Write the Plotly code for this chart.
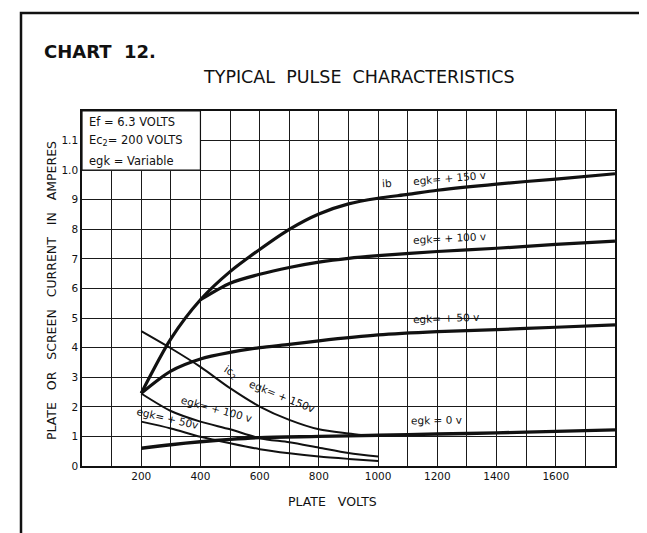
import plotly.graph_objects as go

# ---------------- data ----------------
# Plate current ib (A) vs plate volts
ib150_v = [200, 300, 400, 500, 600, 700, 800, 900, 1000, 1100, 1200, 1400, 1600, 1800]
ib150_i = [0.246, 0.43, 0.562, 0.657, 0.732, 0.80, 0.852, 0.886, 0.905, 0.918, 0.932, 0.953, 0.970, 0.988]

ib100_v = [400, 500, 600, 700, 800, 900, 1000, 1200, 1400, 1600, 1800]
ib100_i = [0.562, 0.618, 0.648, 0.671, 0.689, 0.702, 0.711, 0.725, 0.736, 0.749, 0.760]

ib50_v = [200, 300, 400, 500, 600, 700, 800, 1000, 1200, 1400, 1600, 1800]
ib50_i = [0.246, 0.321, 0.362, 0.384, 0.400, 0.411, 0.423, 0.443, 0.454, 0.461, 0.469, 0.477]

ib0_v = [200, 300, 400, 500, 600, 800, 1000, 1200, 1400, 1600, 1800]
ib0_i = [0.060, 0.072, 0.082, 0.090, 0.096, 0.100, 0.104, 0.108, 0.112, 0.117, 0.122]

# Screen current ic2 (A) vs plate volts
ic150_v = [200, 300, 400, 500, 600, 700, 800, 900, 950]
ic150_i = [0.456, 0.398, 0.335, 0.263, 0.201, 0.156, 0.124, 0.110, 0.104]

ic100_v = [200, 300, 400, 500, 600, 700, 800, 900, 1000]
ic100_i = [0.245, 0.186, 0.150, 0.124, 0.094, 0.080, 0.062, 0.044, 0.032]

ic50_v = [200, 300, 400, 500, 600, 700, 800, 900, 1000]
ic50_i = [0.150, 0.127, 0.099, 0.077, 0.057, 0.043, 0.032, 0.024, 0.017]

x_tick_vals = list(range(0, 1801, 100))
x_tick_text = ["" if (v % 200 or v in (0, 1800)) else str(v) for v in x_tick_vals]
y_tick_vals = [round(0.1 * k, 1) for k in range(0, 13)]
y_tick_text = ["0", "1", "2", "3", "4", "5", "6", "7", "8", "9", "1.0", "1.1", ""]

# ---------------- figure ----------------
W, H = 647, 533
ML, MR, MT, MB = 74, 40, 103, 75
PW, PH = W - ML - MR, H - MT - MB


def px(x):
    return (x - ML) / PW


def py(y):
    return (H - MB - y) / PH


INK = "#111111"
FONT = "DejaVu Sans"

fig = go.Figure()

curves = [
    (ib150_v, ib150_i, 3.2),
    (ib100_v, ib100_i, 3.2),
    (ib50_v, ib50_i, 3.2),
    (ib0_v, ib0_i, 3.4),
    (ic150_v, ic150_i, 2.0),
    (ic100_v, ic100_i, 2.0),
    (ic50_v, ic50_i, 2.0),
]
for xv, yv, w in curves:
    fig.add_trace(go.Scatter(x=xv, y=yv, mode="lines",
                             line=dict(color=INK, width=w, shape="spline", smoothing=0.8),
                             hoverinfo="skip", showlegend=False))

lab_font = dict(family=FONT, size=10.5, color=INK)
curve_labels = [
    ("ib", 1030, 0.958, -4),
    ("egk= + 150 v", 1240, 0.972, -5),
    ("egk= + 100 v", 1240, 0.772, -3),
    ("egk= + 50 v", 1228, 0.500, -2),
    ("egk = 0 v", 1196, 0.156, -1),
    ("ic<sub>2</sub>", 500, 0.318, 32),
    ("egk= + 150v", 675, 0.235, 22),
    ("egk= + 100 v", 455, 0.192, 15),
    ("egk= + 50v", 288, 0.162, 13),
]
annotations = []
for t, x, y, a in curve_labels:
    annotations.append(dict(text=t, x=x, y=y, xref="x", yref="y", showarrow=False,
                            textangle=a, font=lab_font))

# info box text
box_font = dict(family=FONT, size=11.5, color=INK)
for t, y in [("Ef = 6.3 VOLTS", 1.164), ("Ec<sub>2</sub>= 200 VOLTS", 1.099), ("egk = Variable", 1.032)]:
    annotations.append(dict(text=t, x=17, y=y, xref="x", yref="y", xanchor="left",
                            showarrow=False, font=box_font))

# titles
annotations.append(dict(text="<b>CHART  12.</b>", x=px(34), y=py(43), xref="paper", yref="paper",
                        xanchor="left", yanchor="middle", showarrow=False,
                        font=dict(family=FONT, size=18, color=INK)))
annotations.append(dict(text="TYPICAL  PULSE  CHARACTERISTICS", x=px(351), y=py(69.5),
                        xref="paper", yref="paper", xanchor="center", yanchor="middle",
                        showarrow=False, font=dict(family=FONT, size=17.5, color=INK)))
annotations.append(dict(text="PLATE   VOLTS", x=px(324), y=py(493), xref="paper", yref="paper",
                        xanchor="center", yanchor="middle", showarrow=False,
                        font=dict(family=FONT, size=12.5, color=INK)))
annotations.append(dict(text="PLATE   OR   SCREEN   CURRENT   IN   AMPERES", x=px(43), y=py(283),
                        xref="paper", yref="paper", xanchor="center", yanchor="middle",
                        textangle=-90, showarrow=False,
                        font=dict(family=FONT, size=12.5, color=INK)))

shapes = [
    # info box (covers the grid)
    dict(type="rect", xref="x", yref="y", x0=0, x1=400, y0=1.0, y1=1.2,
         fillcolor="white", line=dict(color=INK, width=1.2), layer="above"),
    # outer page frame
    dict(type="path", xref="paper", yref="paper",
         path=f"M {px(13)} {py(540)} L {px(13)} {py(5)} L {px(640)} {py(5)} L {px(640)} {py(540)}",
         line=dict(color=INK, width=2.5), layer="above"),
]

fig.update_layout(
    width=W, height=H,
    margin=dict(l=ML, r=MR, t=MT, b=MB),
    paper_bgcolor="white", plot_bgcolor="white",
    annotations=annotations, shapes=shapes,
    xaxis=dict(range=[0, 1800], tickvals=x_tick_vals, ticktext=x_tick_text,
               showgrid=True, gridcolor="#1a1a1a", gridwidth=1, zeroline=False,
               showline=True, linecolor=INK, linewidth=1.5, mirror=True, ticks="",
               tickfont=dict(family=FONT, size=10.5, color=INK), fixedrange=True),
    yaxis=dict(range=[0, 1.2], tickvals=y_tick_vals, ticktext=y_tick_text,
               showgrid=True, gridcolor="#1a1a1a", gridwidth=1, zeroline=False,
               showline=True, linecolor=INK, linewidth=1.5, mirror=True, ticks="",
               tickfont=dict(family=FONT, size=10.5, color=INK), fixedrange=True),
    showlegend=False,
)

fig.write_html("out.html")
